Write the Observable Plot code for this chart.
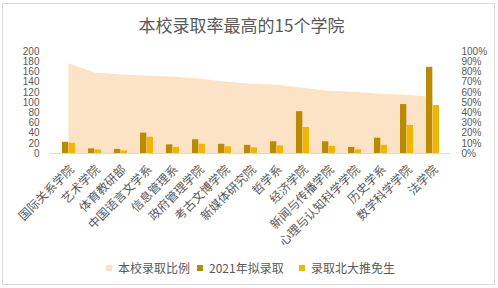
<!DOCTYPE html>
<html>
<head>
<meta charset="utf-8">
<script src="https://cdn.jsdelivr.net/npm/d3@7"></script>
<script src="https://cdn.jsdelivr.net/npm/@observablehq/plot@0.6"></script>
<style>
  html, body { margin: 0; padding: 0; background: #fff; }
  body { width: 498px; height: 288px; position: relative; overflow: hidden; font-family: "Noto Sans CJK SC", sans-serif; color: #595959; }
  #frame { position: absolute; left: 2px; top: 3px; width: 493px; height: 282px; border: 1px solid #d9d9d9; box-sizing: border-box; }
  #title { position: absolute; left: 0; width: 483px; top: 14px; text-align: center; font-size: 17px; line-height: 22px; color: #595959; }
  #chart { position: absolute; left: 0; top: 40px; }
  #legend { position: absolute; top: 259px; left: 0; width: 498px; height: 18px; font-size: 12px; line-height: 18px; color: #595959; }
  .item { position: absolute; top: 0; display: flex; align-items: center; white-space: nowrap; }
  .sw { width: 6px; height: 6px; margin-right: 6px; }
</style>
</head>
<body>
<div id="frame"></div>
<div id="title">本校录取率最高的15个学院</div>
<div id="chart"></div>
<div id="legend"></div>
<script>
const categories = ["国际关系学院","艺术学院","体育教研部","中国语言文学系","信息管理系","政府管理学院","考古文博学院","新媒体研究院","哲学系","经济学院","新闻与传播学院","心理与认知科学学院","历史学系","数学科学学院","法学院"];
const admitRate = [88,79,77,76,75,73,70,68,67,64,61,60,58,57,55]; // percent
const planned2021 = [22,9,8,40,17,27,18,16,23,82,23,12,30,96,169];
const recommended = [20,7,5,32,12,18,13,11,15,51,14,7,16,55,94];
const leftTicks = [0,20,40,60,80,100,120,140,160,180,200];
const rightTicks = [0,10,20,30,40,50,60,70,80,90,100];
const seriesNames = ["本校录取比例","2021年拟录取","录取北大推免生"];
const seriesColors = ["#FDE3C5","#BB8A05","#F2B500"];

const rows = categories.map((c, i) => ({category: c, rate: admitRate[i], planned: planned2021[i], recommended: recommended[i]}));
// right axis (0–100%) shares the left scale (0–200)
const pctToY = p => p * 2;

const tickFont = "Liberation Sans, Arial, sans-serif";
const plot = Plot.plot({
  width: 498,
  height: 215,
  marginTop: 11,
  marginBottom: 102,
  marginLeft: 50,
  marginRight: 48,
  style: {fontFamily: "Noto Sans CJK SC, sans-serif", fontSize: "12px", color: "#595959", background: "transparent"},
  x: {domain: categories, paddingInner: 0.5, paddingOuter: 0.25, label: null},
  y: {domain: [0, 200], label: null},
  marks: [
    Plot.areaY(rows, {x: "category", y: d => pctToY(d.rate), fill: seriesColors[0]}),
    Plot.barY(rows, {x: "category", y: "planned", fill: seriesColors[1], insetRight: 6.67}),
    Plot.barY(rows, {x: "category", y: "recommended", fill: seriesColors[2], insetLeft: 6.67}),
    Plot.ruleY([0], {stroke: "#d9d9d9", strokeWidth: 1}),
    Plot.axisY(leftTicks, {anchor: "left", tickSize: 0, tickPadding: 11, fontFamily: tickFont, fontSize: 10, label: null}),
    Plot.axisY(rightTicks.map(pctToY), {anchor: "right", tickSize: 0, tickPadding: 11, fontFamily: tickFont, fontSize: 10, tickFormat: d => (d / 2) + "%", label: null}),
    Plot.axisX({tickRotate: -45, tickSize: 0, tickPadding: 14, dx: 3, fontSize: 12, label: null})
  ]
});
document.getElementById("chart").appendChild(plot);

const legendX = [106, 197, 299];
const legend = document.getElementById("legend");
seriesNames.forEach((name, i) => {
  const item = document.createElement("div");
  item.className = "item";
  item.style.left = legendX[i] + "px";
  const sw = document.createElement("span");
  sw.className = "sw";
  sw.style.background = seriesColors[i];
  const t = document.createElement("span");
  t.textContent = name;
  item.appendChild(sw);
  item.appendChild(t);
  legend.appendChild(item);
});
</script>
</body>
</html>
